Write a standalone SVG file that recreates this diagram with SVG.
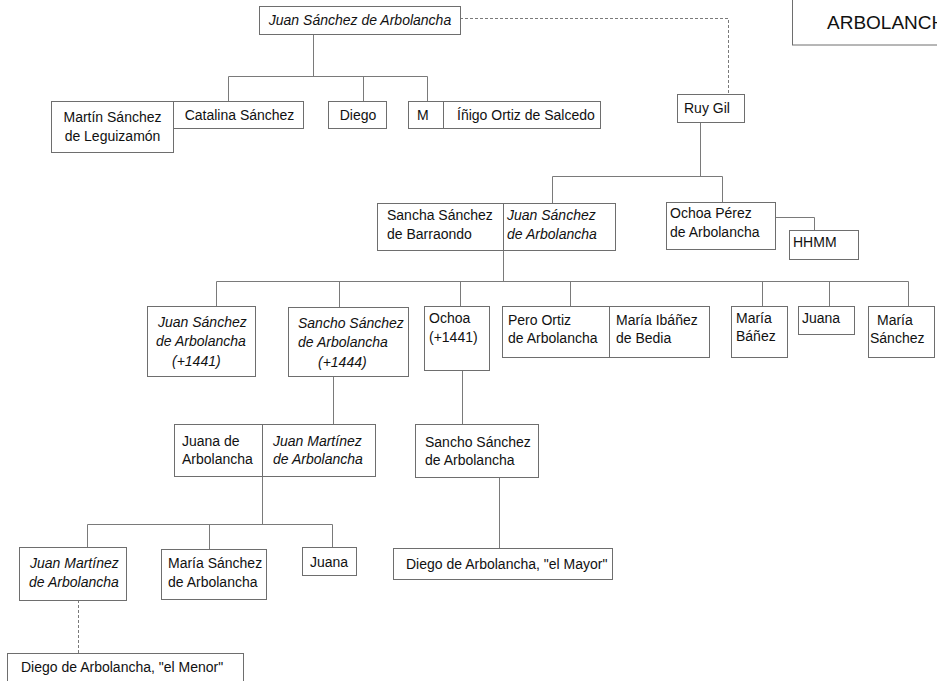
<svg xmlns="http://www.w3.org/2000/svg" width="937" height="681" viewBox="0 0 937 681">
  <style>
    .box { fill: #ffffff; stroke: #6e6e6e; stroke-width: 1; }
    .link { fill: none; stroke: #7a7a7a; stroke-width: 1; }
    .dash { fill: none; stroke: #7a7a7a; stroke-width: 1; stroke-dasharray: 3 2; }
    text { font-family: "Liberation Sans", Arial, sans-serif; font-size: 14px; fill: #111111; }
    .it { font-style: italic; }
    .title { font-size: 19px; }
  </style>
  <rect x="0" y="0" width="937" height="681" fill="#ffffff"/>

  <!-- connectors -->
  <g id="connectors">
    <path class="link" d="M313.5 34 V76.5 M228.5 76.5 H427.5 M228.5 76.5 V101 M363.5 76.5 V101 M427.5 76.5 V101"/>
    <path class="dash" d="M460 18.5 H728.5 V94"/>
    <path class="link" d="M700.5 122 V176.5 M552.5 176.5 H722.5 M552.5 176.5 V203 M722.5 176.5 V202"/>
    <path class="link" d="M775 217.5 H814.5 V230"/>
    <path class="link" d="M503.5 250 V281.5 M216.5 281.5 H908.5 M216.5 281.5 V306 M339.5 281.5 V307 M460.5 281.5 V306 M570.5 281.5 V306 M762.5 281.5 V306 M829.5 281.5 V306 M908.5 281.5 V306"/>
    <path class="link" d="M333.5 376 V424 M462.5 370 V424"/>
    <path class="link" d="M262.5 476 V524.5 M87.5 524.5 H332.5 M87.5 524.5 V547 M209.5 524.5 V549 M332.5 524.5 V547"/>
    <path class="link" d="M499.5 477 V548"/>
    <path class="dash" d="M78.5 600 V653"/>
  </g>

  <!-- title -->
  <g id="title">
    <rect class="box" x="792.5" y="-1" width="200" height="46"/>
    <text class="title" x="827" y="29">ARBOLANCHA</text>
  </g>

  <!-- generation 1 -->
  <g id="juan-sanchez-root">
    <rect class="box" x="259.5" y="6.5" width="201" height="28"/>
    <text class="it" x="360" y="25" text-anchor="middle">Juan Sánchez de Arbolancha</text>
  </g>
  <g id="ruy-gil">
    <rect class="box" x="677.5" y="94.5" width="67" height="28"/>
    <text x="684" y="113">Ruy Gil</text>
  </g>

  <!-- generation 2 (left branch) -->
  <g id="martin-sanchez">
    <rect class="box" x="51.5" y="101.5" width="122" height="51"/>
    <text x="112.5" y="122" text-anchor="middle">Martín Sánchez</text>
    <text x="112.5" y="141" text-anchor="middle">de Leguizamón</text>
  </g>
  <g id="catalina-sanchez">
    <rect class="box" x="173.5" y="101.5" width="130" height="27"/>
    <text x="239.5" y="120" text-anchor="middle">Catalina Sánchez</text>
  </g>
  <g id="diego">
    <rect class="box" x="328.5" y="101.5" width="58" height="27"/>
    <text x="358" y="120" text-anchor="middle">Diego</text>
  </g>
  <g id="m">
    <rect class="box" x="408.5" y="101.5" width="35" height="27"/>
    <text x="417" y="120">M</text>
  </g>
  <g id="inigo-ortiz">
    <rect class="box" x="443.5" y="101.5" width="157" height="27"/>
    <text x="457" y="120">Íñigo Ortiz de Salcedo</text>
  </g>

  <!-- generation 2 (right branch) -->
  <g id="sancha-sanchez">
    <rect class="box" x="377.5" y="203.5" width="126" height="47"/>
    <text x="387" y="220">Sancha Sánchez</text>
    <text x="387" y="239">de Barraondo</text>
  </g>
  <g id="juan-sanchez-2">
    <rect class="box" x="503.5" y="203.5" width="112" height="47"/>
    <text class="it" x="507" y="220">Juan Sánchez</text>
    <text class="it" x="507" y="239">de Arbolancha</text>
  </g>
  <g id="ochoa-perez">
    <rect class="box" x="666.5" y="202.5" width="109" height="47"/>
    <text x="670" y="218">Ochoa Pérez</text>
    <text x="670" y="237">de Arbolancha</text>
  </g>
  <g id="hhmm">
    <rect class="box" x="789.5" y="230.5" width="69" height="29"/>
    <text x="793" y="247">HHMM</text>
  </g>

  <!-- generation 3 -->
  <g id="juan-sanchez-1441">
    <rect class="box" x="147.5" y="306.5" width="108" height="70"/>
    <text class="it" x="158" y="327">Juan Sánchez</text>
    <text class="it" x="156" y="346">de Arbolancha</text>
    <text class="it" x="172" y="366">(+1441)</text>
  </g>
  <g id="sancho-sanchez-1444">
    <rect class="box" x="288.5" y="307.5" width="120" height="69"/>
    <text class="it" x="298" y="328">Sancho Sánchez</text>
    <text class="it" x="298" y="347">de Arbolancha</text>
    <text class="it" x="318" y="367">(+1444)</text>
  </g>
  <g id="ochoa-1441">
    <rect class="box" x="424.5" y="306.5" width="65" height="64"/>
    <text x="429" y="323">Ochoa</text>
    <text x="429" y="342">(+1441)</text>
  </g>
  <g id="pero-ortiz">
    <rect class="box" x="502.5" y="306.5" width="107" height="51"/>
    <text x="508" y="325">Pero Ortiz</text>
    <text x="508" y="343">de Arbolancha</text>
  </g>
  <g id="maria-ibanez">
    <rect class="box" x="609.5" y="306.5" width="100" height="51"/>
    <text x="616" y="325">María Ibáñez</text>
    <text x="616" y="343">de Bedia</text>
  </g>
  <g id="maria-banez">
    <rect class="box" x="731.5" y="306.5" width="56" height="51"/>
    <text x="736" y="323">María</text>
    <text x="736" y="341">Báñez</text>
  </g>
  <g id="juana-3">
    <rect class="box" x="798.5" y="306.5" width="56" height="28"/>
    <text x="802" y="323">Juana</text>
  </g>
  <g id="maria-sanchez-3">
    <rect class="box" x="868.5" y="306.5" width="66" height="51"/>
    <text x="877" y="325">María</text>
    <text x="870" y="343">Sánchez</text>
  </g>

  <!-- generation 4 -->
  <g id="juana-de-arbolancha">
    <rect class="box" x="174.5" y="424.5" width="88" height="52"/>
    <text x="182" y="446">Juana de</text>
    <text x="182" y="464">Arbolancha</text>
  </g>
  <g id="juan-martinez-4">
    <rect class="box" x="262.5" y="424.5" width="113" height="52"/>
    <text class="it" x="273" y="446">Juan Martínez</text>
    <text class="it" x="273" y="464">de Arbolancha</text>
  </g>
  <g id="sancho-sanchez-4">
    <rect class="box" x="415.5" y="424.5" width="123" height="53"/>
    <text x="425" y="447">Sancho Sánchez</text>
    <text x="425" y="465">de Arbolancha</text>
  </g>

  <!-- generation 5 -->
  <g id="juan-martinez-5">
    <rect class="box" x="19.5" y="547.5" width="107" height="53"/>
    <text class="it" x="30" y="568">Juan Martínez</text>
    <text class="it" x="29" y="587">de Arbolancha</text>
  </g>
  <g id="maria-sanchez-5">
    <rect class="box" x="161.5" y="549.5" width="105" height="50"/>
    <text x="168" y="568">María Sánchez</text>
    <text x="168" y="587">de Arbolancha</text>
  </g>
  <g id="juana-5">
    <rect class="box" x="302.5" y="547.5" width="54" height="28"/>
    <text x="310" y="567">Juana</text>
  </g>
  <g id="diego-el-mayor">
    <rect class="box" x="393.5" y="548.5" width="219" height="31"/>
    <text x="406" y="569">Diego de Arbolancha, "el Mayor"</text>
  </g>

  <!-- generation 6 -->
  <g id="diego-el-menor">
    <rect class="box" x="7.5" y="653.5" width="236" height="40"/>
    <text x="21" y="672">Diego de Arbolancha, "el Menor"</text>
  </g>
</svg>
